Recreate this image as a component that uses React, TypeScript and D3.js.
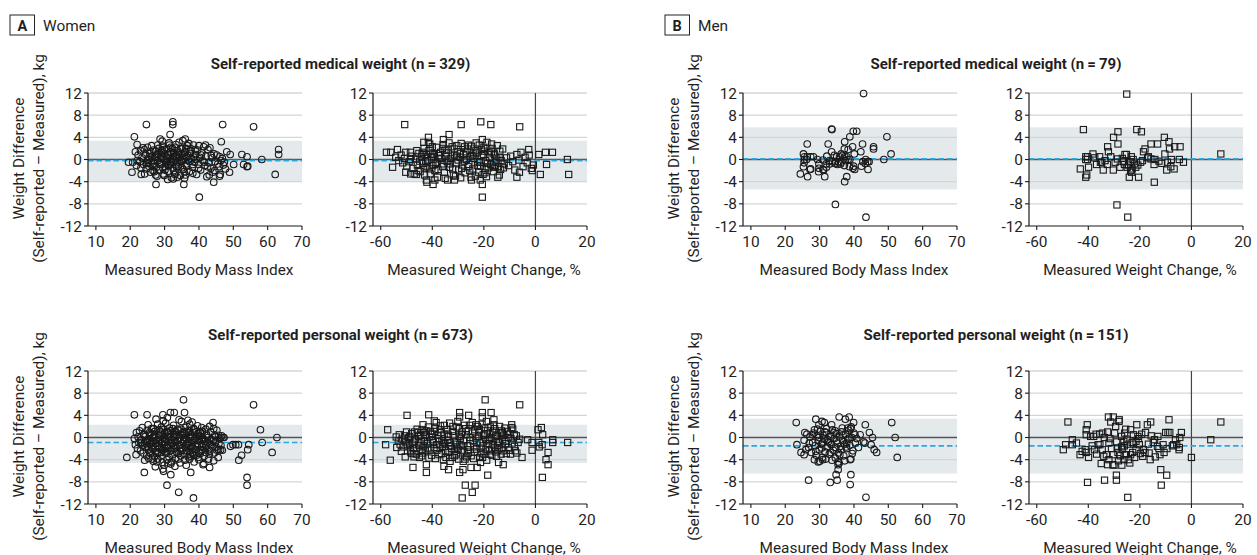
import React from "react";
import * as d3 from "d3";

type Pt = [number, number];

const FONT = "Roboto, 'Open Sans', Arial, sans-serif";

// ---------- tick labels ----------
const yTicks = [-12, -8, -4, 0, 4, 8, 12];
const bmiTicks = [10, 20, 30, 40, 50, 60, 70];
const chgTicks = [-60, -40, -20, 0, 20];

// ---------- agreement statistics [mean, upper limit, lower limit] ----------
const wMedStats = [-0.2, 3.4, -3.9];
const wPerStats = [-0.9, 2.3, -4.6];
const mMedStats = [0.1, 5.8, -5.4];
const mPerStats = [-1.5, 3.4, -6.5];

// ---------- Women, self-reported medical weight: BMI ----------
const wMedBmi: Pt[] = [
  [24.7, 6.3], [32.4, 6.8], [32.4, 6.3], [46.9, 6.3], [55.9, 5.9], [31.6, 4.5], [21.2, 4.1], [28.7, 3.7],
  [36.0, 3.7], [46.5, 3.2], [22.0, 2.7], [63.2, 1.8], [63.2, 0.9], [48.1, 1.4], [49.1, 0.9], [52.5, 0.9],
  [54.0, 0.5], [58.3, 0.0], [50.1, -0.9], [53.0, -0.9], [54.2, -1.2], [54.0, -1.3], [47.7, -1.7], [48.9, -2.3],
  [62.2, -2.7], [46.2, -2.7], [46.0, -3.0], [44.3, -4.1], [27.5, -4.5], [35.6, -4.5], [40.1, -6.8], [20.5, -2.3],
  [19.5, -0.5], [20.7, -0.5], [23.2, -2.7],
  [21.5, 1.4], [22.3, 0.8], [22.8, -0.4], [23.1, -1.5], [23.4, 0.3], [23.7, 2.1], [23.9, -0.9], [22.0, -0.2],
  [21.8, -1.1], [23.0, 1.6], [24.2, -2.6], [24.5, 0.9], [24.8, -0.6], [24.1, 1.8], [24.6, -1.7], [25.0, 2.2],
  [25.2, 0.1], [25.4, -1.2], [25.7, 1.1], [25.9, -2.3], [26.1, -0.3], [26.3, 0.6], [26.5, -1.0], [26.8, 1.7],
  [27.0, -0.7], [27.2, 0.4], [27.4, -2.8], [27.6, -1.4], [27.9, 0.9], [28.1, -0.2], [28.3, 2.0], [28.5, -1.9],
  [28.8, 0.3], [29.0, 1.3], [29.2, -0.8], [29.4, 2.4], [29.6, -2.6], [29.8, 0.0], [30.0, 1.0], [30.2, -1.3],
  [30.4, 0.5], [30.6, 1.9], [30.8, -0.4], [31.0, -2.1], [31.2, 0.8], [31.4, 2.6], [31.6, -0.9], [31.8, 1.4],
  [32.0, -3.3], [32.2, 0.2], [32.4, -1.6], [32.6, 1.1], [32.8, -0.1], [33.0, 2.2], [33.2, -2.4], [33.4, 0.7],
  [33.6, -0.6], [33.8, 1.6], [34.0, -1.2], [34.2, 3.1], [34.4, 0.3], [34.6, -2.9], [34.8, 1.0], [35.0, -0.3],
  [35.2, 2.0], [35.4, -1.8], [35.6, 0.6], [35.8, -3.4], [36.0, 1.3], [36.3, -0.8], [36.6, 2.5], [36.9, -0.1],
  [37.2, -2.2], [37.5, 1.1], [37.8, 0.2], [38.1, -1.4], [38.4, 2.6], [38.7, -0.5], [39.0, 0.9], [39.3, -2.7],
  [39.6, 1.7], [39.9, -0.9], [40.2, 0.4], [40.5, -1.9], [40.8, 1.2], [41.1, -0.2], [41.4, 2.3], [41.7, -1.1],
  [42.0, 0.6], [42.3, -3.1], [42.6, 1.8], [42.9, -0.6], [43.2, 2.1], [43.5, -1.6], [43.8, 0.3], [44.1, -2.3],
  [44.4, 1.0], [44.7, -0.4], [45.2, 0.8], [45.8, -1.3], [46.4, -0.2], [46.8, 0.2], [47.1, -1.0],
  [28.2, 1.1], [28.7, -0.9], [29.1, 0.6], [29.5, -1.5], [29.9, 1.8], [30.3, -0.6], [30.7, 0.2], [31.1, -1.1],
  [31.5, 1.3], [31.9, -0.3], [32.3, 2.0], [32.7, -2.0], [33.1, 0.5], [33.5, -1.3], [33.9, 0.9], [34.3, -0.5],
  [34.7, 1.9], [35.1, -1.5], [35.5, 0.0], [35.9, 1.4], [36.4, -1.2], [36.8, 0.7], [37.3, -0.4], [37.7, 1.9],
  [38.2, -2.5], [38.6, 0.4], [27.3, 1.5], [26.6, -2.0], [25.5, 0.5], [24.9, -0.2], [26.2, 2.5], [27.8, -3.0],
  [30.9, -3.6], [32.5, -3.5], [33.7, -3.2], [36.1, -2.8], [31.3, 3.0], [33.3, 2.7], [35.3, 3.4], [37.0, 2.9],
  [29.3, 3.3], [40.0, 2.5], [41.9, 2.6], [43.0, -2.8], [44.6, -2.0], [45.5, -0.8], [46.1, 0.5], [47.4, -0.5],
  [25.3, -0.7], [26.0, 1.4], [26.9, -1.3], [27.7, 0.6], [28.6, -0.5], [29.3, 1.6], [30.1, -1.9], [30.9, 0.9],
  [31.7, -0.6], [32.5, 0.5], [33.3, -1.0], [34.1, 1.2], [34.9, -0.2], [35.7, -2.2], [36.5, 0.4], [37.4, 1.5],
  [38.2, -0.9], [39.1, 0.0], [39.9, -1.6], [40.7, 0.8], [41.6, -0.5], [42.5, -1.3], [43.6, 0.7], [29.9, -2.9],
  [33.0, -2.7], [36.2, 2.0], [28.0, 2.6], [31.8, 2.2], [38.9, 1.8], [27.0, -2.2],
];

// ---------- Women, self-reported medical weight: weight change ----------
const wMedChg: Pt[] = [
  [-50.7, 6.3], [-28.8, 6.3], [-21.2, 6.8], [-17.3, 6.3], [-6.1, 5.9], [-33.5, 4.5], [-41.5, 4.0], [-35.7, 3.6],
  [-20.6, 3.6], [-43.3, 3.1], [-41.5, 3.1], [-57.8, 1.3], [-56.1, 1.3], [-53.5, 1.8], [-50.3, 1.3], [-48.5, 1.3],
  [-55.4, -1.4], [-50.3, -2.3], [-48.4, -2.6], [-46.2, -2.7], [3.9, 1.3], [6.6, 1.3], [1.3, 0.9], [-2.6, 1.8],
  [12.4, 0.0], [12.9, -2.7], [1.9, -2.7], [4.3, -0.9], [-6.2, -2.3], [-7.2, -3.2], [-42.3, -3.7], [-42.1, -4.1],
  [-39.7, -4.5], [-39.0, -3.7], [-34.1, -3.7], [-31.4, -3.7], [-24.8, -3.7], [-20.6, -4.5], [-14.6, -3.2],
  [-20.6, -6.8], [-21.4, -3.7],
  [-54.2, 0.4], [-53.0, -0.2], [-52.1, 0.8], [-51.5, -0.6], [-50.8, 0.2], [-49.9, -1.2], [-49.0, -0.4], [-48.2, 0.6],
  [-47.5, -1.6], [-47.0, -2.6], [-46.4, 0.1], [-45.8, -1.0], [-45.2, 1.1], [-44.7, -2.2], [-44.2, 0.5], [-43.7, -0.7],
  [-43.2, 2.0], [-42.8, -1.5], [-42.3, 0.9], [-41.8, -0.2], [-41.3, 1.6], [-40.8, -2.6], [-40.3, 0.3], [-39.8, -1.1],
  [-39.3, 0.9], [-38.8, -0.5], [-38.3, 2.2], [-37.8, -1.8], [-37.3, 0.1], [-36.8, 1.3], [-36.3, -0.8], [-35.8, 2.7],
  [-35.3, -2.3], [-34.8, 0.6], [-34.3, -0.3], [-33.8, 1.7], [-33.3, -1.4], [-32.8, 0.2], [-32.3, 2.3], [-31.8, -2.8],
  [-31.3, 0.8], [-30.8, -0.6], [-30.3, 1.4], [-29.8, -1.9], [-29.3, 0.4], [-28.8, 2.9], [-28.3, -1.0], [-27.8, 0.9],
  [-27.3, -2.4], [-26.8, 0.0], [-26.3, 1.9], [-25.8, -0.9], [-25.3, 0.5], [-24.8, 2.4], [-24.3, -1.7], [-23.8, 0.2],
  [-23.3, -3.0], [-22.8, 1.2], [-22.3, -0.4], [-21.8, 2.6], [-21.3, -1.2], [-20.8, 0.7], [-20.3, -2.7], [-19.8, 1.5],
  [-19.3, -0.2], [-18.8, 3.1], [-18.3, -1.5], [-17.8, 0.4], [-17.3, -0.9], [-16.8, 2.0], [-16.3, -2.2], [-15.8, 0.8],
  [-15.3, -0.5], [-14.8, 2.5], [-14.3, -1.3], [-13.8, 1.5], [-13.3, -0.2], [-12.7, 1.9], [-12.1, -0.8], [-11.2, 0.3],
  [-10.4, -1.1], [-9.6, 0.6], [-8.8, -0.4], [-8.0, -1.9], [-7.2, 0.9], [-6.4, -0.1], [-5.6, 1.3], [-4.8, -1.3],
  [-4.0, 0.4], [-3.2, -0.6], [-2.4, 0.8], [-1.6, -1.6], [-0.8, -1.0], [-1.2, -2.0],
  [-44.9, -0.3], [-43.5, 1.3], [-42.0, -1.2], [-40.6, 1.0], [-39.0, -2.0], [-37.6, 0.7], [-36.0, -1.3], [-34.5, 1.2],
  [-33.0, -0.8], [-31.5, 1.9], [-30.0, -0.1], [-28.6, -1.6], [-27.0, 1.4], [-25.5, -2.0], [-24.0, 1.0], [-22.5, -1.1],
  [-21.0, 1.8], [-19.5, -1.7], [-18.0, 1.2], [-16.5, -1.2], [-15.0, 0.1], [-13.5, -1.8], [-46.0, 1.6], [-41.0, 2.8],
  [-38.0, -3.2], [-33.5, 3.0], [-29.0, -3.3], [-26.0, 2.6], [-23.0, 3.0], [-19.0, -3.1], [-17.0, 2.8], [-14.0, -2.8],
  [-35.0, -3.4], [-30.5, 2.5], [-25.0, -3.2], [-20.0, 2.2], [-43.0, -2.8], [-48.5, 0.0],
  [-44.0, 1.0], [-42.6, -0.4], [-41.1, -1.7], [-39.6, 0.5], [-38.1, -0.7], [-36.6, 0.2], [-35.1, 1.7], [-33.6, -0.1],
  [-32.1, -1.7], [-30.6, 0.6], [-29.1, 1.1], [-27.6, -0.3], [-26.1, -1.3], [-24.6, 0.7], [-23.1, 1.6], [-21.6, -0.5],
  [-20.1, 0.9], [-18.6, -0.7], [-17.1, 1.4], [-15.6, -1.4], [-14.1, 0.4], [-12.4, -1.5], [-31.0, -3.0], [-27.5, 2.3],
  [-22.0, -2.3], [-36.0, 2.0], [-40.0, 2.3], [-45.5, -2.0], [-16.0, 1.0], [-19.6, -2.4],
];

// ---------- Women, self-reported personal weight: BMI ----------
const wPerBmi: Pt[] = [
  [35.5, 6.8], [55.9, 5.9], [21.2, 4.1], [24.9, 4.1], [31.7, 4.5], [32.8, 4.5], [35.8, 4.5], [29.5, 4.1],
  [44.1, 2.7], [57.9, 1.4], [62.7, 0.0], [19.0, -3.6], [24.1, -6.3], [27.3, -5.3], [29.5, -5.7], [29.7, -6.1],
  [31.8, -6.7], [30.7, -8.6], [34.1, -9.9], [38.4, -10.9], [37.6, -6.3], [41.2, -4.9], [43.1, -5.4], [54.0, -7.2],
  [54.0, -8.6], [51.6, -4.1], [52.4, -3.2], [54.2, -2.2], [54.5, -1.3], [58.4, -0.9], [61.3, -2.7], [49.2, -1.6],
  [49.9, -1.3], [50.7, -1.3], [51.5, -1.3], [47.3, 0.0], [46.4, 0.0], [45.7, 0.4], [45.7, -2.2],
  [23.5, 1.8], [25.2, 2.3], [26.8, 1.6], [28.0, 2.4], [29.1, 1.9], [30.3, 2.6], [31.4, 1.7], [32.6, 2.2],
  [33.8, 1.5], [34.9, 2.9], [36.1, 1.8], [37.3, 2.4], [38.5, 1.6], [39.6, 2.1], [40.8, 1.8], [42.0, 1.5],
  [43.1, 2.0], [44.3, 1.6], [45.2, 1.3], [27.5, 3.3], [30.8, 3.6], [34.2, 3.2], [36.8, 3.1], [29.6, 3.0], [38.0, 2.8],
  [21.8, 0.9], [22.7, 1.2], [24.0, 0.6], [24.9, 1.3], [26.0, 0.8], [27.1, 1.1], [28.3, 0.5], [29.4, 1.4],
  [30.6, 0.9], [31.7, 1.2], [32.9, 0.6], [34.0, 1.3], [35.2, 0.8], [36.4, 1.1], [37.5, 0.5], [38.7, 1.4],
  [39.8, 0.7], [41.0, 1.1], [42.2, 0.6], [43.4, 1.0], [44.6, 0.4], [46.6, 0.3], [25.6, 0.4], [28.9, 1.0],
  [33.3, 1.0], [36.9, 0.9], [40.3, 0.3],
  [21.2, -0.2], [22.3, 0.1], [23.3, -0.4], [24.4, 0.2], [25.5, -0.3], [26.5, 0.0], [27.6, -0.5], [28.6, 0.3],
  [29.7, -0.1], [30.8, 0.2], [31.9, -0.4], [33.0, 0.1], [34.1, -0.2], [35.3, 0.4], [36.4, -0.3], [37.6, 0.0],
  [38.8, -0.5], [39.9, 0.2], [41.1, -0.1], [42.3, 0.3], [43.5, -0.4], [44.8, 0.1], [46.0, -0.2], [47.0, 0.0],
  [26.9, 0.4], [30.2, -0.3], [35.8, 0.0], [39.2, 0.1],
  [21.5, -1.3], [22.5, -0.9], [23.6, -1.4], [24.7, -0.8], [25.8, -1.2], [26.8, -0.7], [27.9, -1.5], [29.0, -0.9],
  [30.0, -1.3], [31.1, -0.6], [32.2, -1.1], [33.3, -0.8], [34.4, -1.4], [35.5, -0.7], [36.6, -1.2], [37.8, -0.9],
  [38.9, -1.5], [40.1, -0.6], [41.2, -1.2], [42.4, -0.8], [43.6, -1.3], [44.7, -0.9], [45.8, -1.1], [46.4, -1.4],
  [24.1, -1.0], [28.4, -1.1], [32.7, -1.4], [37.1, -1.5], [41.7, -0.7],
  [22.1, -2.0], [23.0, -2.4], [24.3, -1.8], [25.3, -2.2], [26.3, -1.7], [27.4, -2.5], [28.5, -1.9], [29.5, -2.3],
  [30.6, -1.7], [31.6, -2.4], [32.8, -2.0], [33.9, -1.6], [35.0, -2.3], [36.1, -1.8], [37.2, -2.5], [38.3, -2.0],
  [39.5, -1.7], [40.6, -2.4], [41.8, -1.9], [42.9, -2.2], [44.0, -1.7], [45.3, -2.3], [46.3, -2.2], [46.8, -2.3],
  [26.0, -2.5], [30.1, -2.0], [34.6, -2.5], [38.0, -1.6],
  [21.7, -3.1], [23.8, -2.8], [24.8, -3.3], [25.9, -2.9], [27.0, -3.4], [28.1, -2.7], [29.2, -3.2], [30.3, -2.8],
  [31.3, -3.5], [32.4, -3.0], [33.5, -2.6], [34.7, -3.3], [35.8, -2.9], [36.9, -3.5], [38.1, -2.7], [39.3, -3.2],
  [40.4, -2.9], [41.5, -3.4], [43.0, -3.0], [44.5, -2.8], [45.6, -3.6],
  [24.2, -4.1], [25.4, -3.8], [26.7, -4.3], [28.0, -3.9], [29.3, -4.5], [30.7, -4.0], [32.0, -4.4], [33.2, -3.8],
  [34.5, -4.6], [35.9, -4.1], [37.3, -3.9], [38.6, -4.4], [40.0, -4.0], [41.4, -4.7], [42.8, -3.9], [44.3, -4.2],
  [29.9, -5.0], [33.0, -5.2], [36.3, -5.0], [31.8, -4.8],
  [24.5, -0.6], [25.0, -1.6], [25.6, 0.9], [26.1, -0.9], [26.6, -2.1], [27.1, 0.2], [27.5, -1.1], [28.0, -2.9],
  [28.4, 1.4], [28.8, -0.3], [29.2, -1.8], [29.6, 0.5], [30.0, -0.7], [30.4, -2.6], [30.8, 1.1], [31.2, -1.5],
  [31.6, 0.0], [32.0, -2.2], [32.4, 1.6], [32.8, -0.5], [33.2, -1.7], [33.6, 0.4], [34.0, -2.9], [34.4, -0.1],
  [34.8, 1.5], [35.2, -1.9], [35.6, -0.4], [36.0, 0.7], [36.4, -2.4], [36.8, -0.8], [37.2, 1.3], [37.6, -1.8],
  [38.0, 0.2], [38.4, -3.1], [38.8, -0.2], [39.2, 1.0], [39.6, -1.2], [40.0, -2.6], [40.4, 0.9], [40.9, -1.6],
  [41.4, -0.3], [41.9, -2.7], [42.5, 0.0], [43.0, -1.0],
  [23.1, -1.0], [23.9, 0.5], [25.1, -0.4], [26.2, 1.6], [27.3, -1.9], [28.2, -0.5], [29.1, -2.7], [30.1, 0.7],
  [31.0, -1.9], [31.9, -0.9], [32.9, 1.1], [33.8, -0.6], [34.7, -2.0], [35.6, 1.0], [36.5, -1.0], [37.4, -3.0],
  [38.3, 0.9], [39.2, -2.2], [40.1, -0.3], [41.0, -2.2], [42.0, -1.4], [43.2, -2.5], [44.2, -0.5], [45.0, -1.7],
  [27.8, -4.4], [31.0, -4.6], [34.0, -3.9], [37.7, -3.4], [26.4, -3.9], [39.8, -3.6],
];

// ---------- Women, self-reported personal weight: weight change ----------
const wPerChg: Pt[] = [
  [-57.3, 1.4], [-58.1, -1.3], [-56.3, -4.1], [-49.8, 4.0], [-47.5, -5.4], [-42.3, -4.9], [-42.3, -6.3], [-41.4, 4.1],
  [-33.7, -5.8], [-35.5, -5.2], [-29.4, 4.5], [-29.4, 3.7], [-25.9, 4.0], [-19.5, 6.8], [-20.6, 4.5], [-20.6, 3.7],
  [-17.2, 4.5], [-16.1, 3.2], [-6.1, 5.9], [-29.4, -6.3], [-28.1, -5.8], [-27.2, -8.6], [-23.4, -8.6], [-24.5, -9.9],
  [-28.4, -10.9], [-25.0, -5.4], [-22.6, -5.4], [-18.5, -6.8], [-21.3, -4.5], [-12.5, -4.9], [-14.3, -4.5],
  [-5.2, -3.6], [-7.2, -2.8], [2.3, 1.8], [2.8, 0.5], [1.0, 1.4], [4.9, -2.7], [4.1, -4.0], [4.9, -4.9],
  [2.7, -7.2], [6.7, -0.4], [6.7, -0.9], [12.5, -0.9], [1.3, -0.9], [2.6, -1.3], [1.5, -1.7], [-1.3, -0.9],
  [-1.3, -2.3], [-3.0, -0.4], [-9.2, 2.3], [-9.2, 1.8],
  [-54.0, 0.1], [-53.2, -0.6], [-52.5, -1.2], [-51.8, -0.3], [-51.0, -1.7], [-50.3, -0.8], [-49.6, -2.4], [-48.8, -1.1],
  [-48.0, 0.7], [-47.3, -2.0], [-46.6, -0.4], [-45.9, 1.5], [-45.2, -1.4], [-44.5, 0.4], [-43.8, -2.8], [-43.1, -0.7],
  [-42.4, 1.2], [-41.7, -1.9], [-41.0, 0.1], [-40.3, -3.2], [-39.6, -0.9], [-38.9, 1.7], [-38.2, -2.3], [-37.5, -0.2],
  [-36.8, 2.1], [-36.1, -1.6], [-35.4, 0.6], [-34.7, -3.6], [-34.0, -0.5], [-33.3, 2.6], [-32.6, -2.0], [-31.9, 0.3],
  [-31.2, -1.2], [-30.5, 1.9], [-29.8, -3.9], [-29.1, -0.1], [-28.4, 1.0], [-27.7, -2.6], [-27.0, 0.5], [-26.3, -1.5],
  [-25.6, 2.2], [-24.9, -3.3], [-24.2, -0.6], [-23.5, 1.4], [-22.8, -2.1], [-22.1, 0.2], [-21.4, -1.0], [-20.7, 2.4],
  [-20.0, -3.0], [-19.3, -0.3], [-18.6, 1.2], [-17.9, -2.4], [-17.2, 0.0], [-16.5, -1.3], [-15.8, 1.6], [-15.1, -3.4],
  [-14.4, -0.7], [-13.7, 0.8], [-13.0, -1.9], [-12.3, 0.4], [-11.6, -1.1], [-10.9, 1.1], [-10.2, -2.3], [-9.5, -0.2],
  [-8.8, 1.5], [-8.1, -1.6], [-7.4, 0.3], [-6.7, -0.9],
  [-50.8, 0.3], [-49.2, -0.1], [-47.7, -1.2], [-46.2, -3.0], [-44.8, -1.0], [-43.4, 0.9], [-42.0, -1.1], [-40.7, 1.1],
  [-39.3, -1.8], [-37.9, 0.4], [-36.5, -2.9], [-35.1, -1.1], [-33.7, 0.2], [-32.3, -3.6], [-30.9, -0.8], [-29.5, 1.6],
  [-28.1, -1.5], [-26.7, -3.5], [-25.3, 0.0], [-23.9, -1.7], [-22.5, 2.0], [-21.1, -2.8], [-19.7, 0.7], [-18.3, -1.1],
  [-16.9, -3.2], [-15.5, 0.3], [-14.1, -2.1], [-12.7, -0.4], [-11.3, -2.9], [-9.9, 0.6], [-7.8, -2.4], [-6.1, -0.3],
  [-48.4, -2.6], [-45.5, 0.9], [-42.7, -2.4], [-39.9, 0.6], [-37.1, -1.3], [-34.3, 1.4], [-31.5, -2.5], [-28.7, 0.6],
  [-25.9, -2.2], [-23.1, -0.1], [-20.3, -1.5], [-17.5, 1.9], [-14.7, -1.4], [-11.9, 1.7], [-41.3, -3.7], [-38.5, 2.7],
  [-35.7, -4.0], [-32.9, -1.5], [-30.1, 2.9], [-27.3, -3.9], [-24.5, 2.7], [-21.7, -3.6], [-18.9, -4.1], [-16.1, 2.3],
  [-13.3, -3.0], [-46.9, 1.0], [-44.1, -3.3], [-36.3, -0.6], [-29.3, -1.3], [-26.0, 1.2], [-19.0, 2.9], [-33.1, -4.3],
  [-30.7, -3.1], [-43.6, 2.3], [-39.2, 3.0], [-21.9, 1.0], [-17.0, -2.1], [-10.6, 0.0], [-53.8, -1.8], [-52.0, -2.5],
  [-50.5, -3.5], [-47.1, -3.5],
  [-49.5, -1.5], [-48.7, 0.2], [-47.9, -2.9], [-47.0, -0.8], [-46.1, -1.9], [-45.3, 0.2], [-44.4, -2.3], [-43.5, -1.5],
  [-42.7, 0.5], [-41.8, -0.8], [-40.9, -2.3], [-40.0, -0.4], [-39.2, 1.1], [-38.3, -1.3], [-37.4, -3.1], [-36.6, 0.9],
  [-35.7, -0.9], [-34.8, -2.4], [-34.0, 0.6], [-33.1, -1.0], [-32.2, 1.1], [-31.4, -3.3], [-30.5, -1.7], [-29.6, 0.2],
  [-28.8, -2.3], [-27.9, -0.6], [-27.0, 1.6], [-26.2, -2.9], [-25.3, -1.1], [-24.4, 0.8], [-23.6, -2.6], [-22.7, -0.9],
  [-21.8, 1.5], [-21.0, -1.9], [-20.1, 0.4], [-19.2, -2.2], [-18.4, -0.6], [-17.5, -3.0], [-16.6, 0.9], [-15.8, -1.8],
  [-14.9, 0.2], [-14.0, -1.0], [-13.2, 1.2], [-12.3, -2.4], [-11.4, -0.6], [-10.5, -1.8], [-9.0, -1.0], [-8.2, 0.5],
  [-52.8, 0.5], [-50.0, 1.0], [-45.0, -3.6], [-41.5, 1.9], [-37.0, 1.4], [-33.5, -2.7], [-30.0, -2.1], [-27.5, 2.2],
  [-24.0, -3.8], [-20.5, -3.6], [-17.8, -0.4], [-15.4, -2.6], [-12.8, 0.9], [-9.7, -3.0], [-44.0, 1.4], [-38.8, -3.8],
  [-35.3, 2.2], [-32.0, 2.0], [-28.0, -4.3], [-23.0, 2.3], [-19.6, 1.7], [-13.9, 2.0],
];

// ---------- Men, self-reported medical weight: BMI ----------
const mMedBmi: Pt[] = [
  [42.8, 11.9], [33.5, 5.5], [33.6, 5.4], [39.8, 5.1], [40.8, 5.1], [38.8, 4.1], [37.3, 3.2], [49.6, 4.1],
  [26.4, 2.8], [32.5, 2.8], [42.5, 2.8], [39.6, 2.3], [45.7, 2.3], [45.7, 1.9], [38.3, 1.8], [37.2, 1.9],
  [33.5, 1.4], [42.0, 1.4], [25.3, 1.0], [50.8, 1.0], [40.1, 1.0], [36.3, 1.0], [25.6, 0.5], [26.4, 0.5],
  [27.4, 0.5], [28.2, 0.5], [32.1, 0.6], [34.3, 0.75], [35.0, 0.5], [35.8, 0.5], [36.6, 0.75], [37.3, 0.5],
  [37.9, 0.5], [48.7, 0.0], [43.4, 0.0], [25.5, 0.0], [26.2, 0.0], [29.4, 0.0], [31.0, -0.1], [32.9, -0.2],
  [33.8, -0.4], [34.6, -0.4], [35.5, -0.4], [36.2, -0.5], [37.5, -0.2], [38.3, 0.0], [38.8, 0.0], [25.5, -0.6],
  [42.6, -0.4], [44.0, -0.4], [44.4, -0.4], [34.5, -0.7], [35.2, -0.9], [32.9, -0.8], [31.9, -0.8], [36.1, -0.8],
  [37.2, -1.1], [38.7, -1.3], [39.9, -1.2], [25.3, -1.3], [29.8, -0.8], [29.8, -1.6], [31.0, -1.8], [32.0, -1.4],
  [42.2, -1.2], [43.3, -0.7], [44.1, -1.8], [39.7, -1.6], [40.2, -1.8], [27.2, -1.8], [27.4, -1.7], [24.4, -2.6],
  [29.7, -2.2], [31.2, -1.9], [26.5, -3.1], [31.5, -3.1], [37.9, -3.1], [37.3, -4.0], [34.6, -8.1], [43.5, -10.4],
];

// ---------- Men, self-reported medical weight: weight change ----------
const mMedChg: Pt[] = [
  [-25.1, 11.8], [-41.9, 5.4], [-21.2, 5.4], [-19.4, 5.0], [-28.5, 5.0], [-30.2, 4.0], [-10.5, 4.0], [-8.7, 3.2],
  [-28.5, 2.8], [-15.7, 2.8], [-13.1, 2.8], [-32.5, 2.3], [-6.5, 2.3], [-4.4, 2.3], [-18.0, 1.9], [-8.5, 1.9],
  [-32.2, 1.4], [-18.6, 1.4], [-10.3, 1.0], [11.4, 1.0], [-38.2, 1.0], [-16.7, 0.5], [-41.0, 0.5], [-40.3, 0.5],
  [-31.3, 0.5], [-25.2, 0.9], [-25.8, 0.9], [-35.6, 0.5], [-23.3, 0.5], [-15.7, 0.1], [-14.2, 0.0], [-28.7, 0.1],
  [-41.0, 0.0], [-40.3, 0.0], [-4.7, 0.0], [-35.3, -0.5], [-34.8, -0.5], [-29.6, -0.5], [-26.4, -0.4], [-23.6, -0.4],
  [-19.7, -0.5], [-22.2, -0.8], [-14.5, -0.9], [-11.5, -0.7], [-9.3, -0.5], [-7.8, 0.0], [-3.1, -0.5], [-39.9, -1.4],
  [-36.8, -0.9], [-32.6, -0.9], [-27.7, -1.4], [-24.9, -1.4], [-21.6, -1.4], [-23.0, -1.7], [-23.6, -2.0], [-34.2, -1.9],
  [-30.3, -1.9], [-43.1, -1.7], [-9.6, -1.9], [-6.7, -1.7], [-8.0, -1.3], [-23.2, -2.3], [-40.6, -2.8], [-41.0, -3.2],
  [-24.1, -3.2], [-20.5, -3.2], [-14.4, -4.1], [-28.9, -8.2], [-24.7, -10.4], [-26.0, -0.9], [-24.4, -1.0],
  [-22.6, 0.0], [-17.0, 0.3], [-12.6, -0.3], [-37.5, 0.3], [-33.5, -0.2], [-20.8, -1.0], [-26.8, 0.2], [-19.0, -0.2],
];

// ---------- Men, self-reported personal weight: BMI ----------
const mPerBmi: Pt[] = [
  [23.2, 2.7], [28.9, 3.3], [30.7, 2.9], [31.4, 2.7], [35.7, 3.7], [37.5, 3.3], [38.6, 3.7], [39.9, 2.7],
  [33.5, 2.3], [29.8, 2.3], [43.3, 2.3], [51.0, 2.7], [39.2, 1.9], [38.2, 1.7], [28.5, 1.4], [25.7, 0.9],
  [44.5, 0.9], [45.4, 0.0], [52.0, 0.0], [23.4, -1.3], [24.6, -2.7], [25.5, -3.1], [42.8, -0.8], [43.2, -1.0],
  [45.0, -1.3], [45.9, -2.2], [46.6, -2.7], [52.6, -3.6], [29.6, -4.4], [30.9, -4.0], [35.4, -4.9], [35.7, -4.6],
  [35.4, -5.8], [34.8, -6.7], [39.1, -6.7], [26.8, -7.7], [33.1, -8.1], [35.1, -7.7], [38.9, -8.5], [43.5, -10.8],
  [25.5, -0.5], [26.3, 0.6], [26.8, -1.8], [27.2, 0.1], [27.6, -2.7], [28.0, -0.9], [28.3, 0.8], [28.7, -1.5],
  [29.0, -3.2], [29.3, 0.3], [29.6, -0.6], [29.9, -2.2], [30.2, 1.1], [30.5, -1.2], [30.8, -3.6], [31.0, 0.4],
  [31.3, -0.3], [31.6, -2.6], [31.9, 0.9], [32.2, -1.7], [32.5, -0.8], [32.8, -3.0], [33.1, 0.2], [33.4, -1.3],
  [33.7, 1.4], [34.0, -2.3], [34.3, -0.2], [34.6, -3.7], [34.9, 0.7], [35.2, -1.0], [35.5, -2.8], [35.8, 0.1],
  [36.1, -1.6], [36.4, 1.0], [36.7, -0.5], [37.0, -3.3], [37.3, -1.2], [37.6, 0.6], [37.9, -2.0], [38.2, -0.3],
  [38.5, 1.3], [38.8, -1.4], [39.1, -3.9], [39.4, 0.0], [39.7, -2.4], [40.0, 0.8], [40.4, -1.0], [40.8, -0.2],
  [41.3, -1.8], [41.8, 0.5],
  [26.0, -2.2], [27.0, -1.0], [27.9, 0.5], [28.9, -2.5], [29.8, 0.0], [30.6, -1.9], [31.5, 1.0], [32.3, -0.4],
  [33.2, -2.7], [34.1, 0.9], [35.0, -0.6], [35.9, -3.1], [36.8, 0.4], [37.7, -1.7], [38.6, -0.1], [39.5, -2.9],
  [40.3, 0.5], [28.5, -4.0], [30.0, -4.3], [31.8, -3.9], [33.6, -4.1], [35.4, -4.4], [37.3, -4.2], [38.9, -4.0],
  [29.4, 1.5], [32.0, 1.6], [34.5, 1.2], [36.6, 1.7], [39.0, 1.6], [30.9, -1.0], [33.0, -1.0], [34.7, -1.8],
  [36.3, -2.2], [37.9, -1.0],
];

// ---------- Men, self-reported personal weight: weight change ----------
const mPerChg: Pt[] = [
  [-47.9, 2.8], [-49.7, -2.2], [-48.8, -1.3], [-46.2, -0.4], [-46.2, -1.3], [-43.2, -3.1], [-40.4, 2.3], [-40.8, 1.4],
  [-40.8, 0.5], [-41.2, -2.2], [-40.8, -2.7], [-39.9, -3.6], [-40.3, -8.1], [-39.1, 0.2], [-37.9, 0.2], [-37.0, 0.6],
  [-35.6, 0.6], [-33.7, -7.7], [-29.1, -7.7], [-29.1, -6.8], [-24.7, -10.8], [-32.2, 3.7], [-30.3, 3.7], [-28.0, 3.2],
  [-31.3, 2.8], [-29.4, 2.0], [-28.1, 2.9], [-21.2, 2.3], [-15.8, 2.8], [-17.1, 2.3], [-8.7, 3.2], [-9.1, 0.9],
  [-8.4, 0.9], [-10.0, 0.9], [-3.9, 0.9], [-4.5, 0.0], [11.4, 2.8], [7.5, -0.4], [0.0, -3.6], [-11.9, -5.8],
  [-9.6, -6.8], [-11.7, -8.6], [-4.8, -2.2], [-4.7, -1.8], [-6.9, -1.3], [-5.7, -1.3], [-10.6, -2.7], [-12.2, -3.1],
  [-14.0, -3.5], [-16.0, -4.0], [-14.3, -0.4], [-14.8, -0.9], [-13.2, -1.6], [-18.6, -2.2], [-18.0, -2.7], [-20.8, 0.2],
  [-21.5, -0.7], [-22.4, -1.2], [-23.6, 1.4], [-25.9, 0.8], [-27.1, 0.2], [-26.2, -0.7], [-24.9, -1.2], [-27.1, -1.7],
  [-28.5, -2.7], [-30.3, -3.1], [-32.0, -4.0], [-30.5, -4.9], [-32.5, -4.9], [-25.6, -3.1], [-23.6, -3.1], [-26.2, -4.0],
  [-24.5, -4.0], [-22.8, -2.7], [-21.5, -2.2], [-20.2, -1.3], [-32.5, 1.0], [-33.8, 0.0], [-35.5, -1.3], [-33.0, -3.1],
  [-34.6, -2.2], [-36.2, -1.3], [-36.8, -3.0], [-34.0, -3.4], [-31.0, -2.0], [-29.0, -0.8], [-27.6, -3.3], [-26.7, -2.1],
  [-25.0, -0.3], [-23.9, -4.6], [-22.0, -3.6], [-20.5, -0.2], [-19.3, 0.6], [-17.8, 0.9], [-16.7, -1.2], [-15.6, 0.3],
  [-13.0, 0.2], [-11.0, -1.3], [-9.5, -2.0], [-7.4, -1.5], [-6.2, -0.4], [-30.0, -5.0], [-28.8, -1.9], [-32.0, -1.0],
  [-35.0, -4.7], [-37.6, -2.2], [-38.5, -1.5], [-42.4, -2.5], [-44.6, -1.0], [-27.0, -5.0], [-25.5, 1.5], [-22.5, 0.5],
  [-18.9, -3.4], [-16.4, -2.8], [-12.6, -2.0], [-29.8, 0.8], [-31.6, -0.2], [-34.4, 0.8], [-23.0, -0.9], [-19.8, -2.9],
  [-26.0, -1.5], [-28.3, -4.2],
];

// ---------- layout ----------
const PW = 214;
const PH = 133;
const ROW_Y = [93, 371];
const COL_X = [88, 373, 743, 1029];
const BMI_DOMAIN: [number, number] = [7.7, 70];
const CHG_DOMAIN: [number, number] = [-63, 20];

const BAND = "#e4e9ec";
const GRID = "#d3d6d8";
const BLUE = "#2aa8e0";
const INK = "#1a1a1a";
const TXT = "#1f1f1f";
const FS = 15.4;

type PanelProps = {
  x0: number;
  y0: number;
  kind: "bmi" | "chg";
  data: Pt[];
  stats: number[];
};

function Panel({ x0, y0, kind, data, stats }: PanelProps) {
  const x = d3.scaleLinear().domain(kind === "bmi" ? BMI_DOMAIN : CHG_DOMAIN).range([x0, x0 + PW]);
  const y = d3.scaleLinear().domain([-12, 12]).range([y0 + PH, y0]);
  const ticks = kind === "bmi" ? bmiTicks : chgTicks;
  const [mean, upper, lower] = stats;
  const sq = 6.2;
  return (
    <g>
      <rect x={x0} y={y(upper)} width={PW} height={y(lower) - y(upper)} fill={BAND} />
      {yTicks
        .filter((t) => t !== 0 && t !== -12)
        .map((t) => (
          <line key={t} x1={x0} x2={x0 + PW} y1={y(t)} y2={y(t)} stroke={GRID} strokeWidth={1.4} />
        ))}
      <line x1={x0} x2={x0 + PW} y1={y(0)} y2={y(0)} stroke="#555" strokeWidth={1.3} />
      {kind === "chg" && (
        <line x1={x(0)} x2={x(0)} y1={y(12)} y2={y(-12)} stroke="#444" strokeWidth={1.2} />
      )}
      <line x1={x0} x2={x0 + PW} y1={y(mean)} y2={y(mean)} stroke={BLUE} strokeWidth={1.7} strokeDasharray="5.5,3" />
      {/* axes */}
      <line x1={x0} x2={x0} y1={y(12)} y2={y(-12)} stroke={INK} strokeWidth={1.2} />
      <line x1={x0} x2={x0 + PW} y1={y(-12)} y2={y(-12)} stroke={INK} strokeWidth={1.2} />
      {yTicks.map((t) => (
        <g key={t}>
          <line x1={x0 - 4} x2={x0} y1={y(t)} y2={y(t)} stroke={INK} strokeWidth={1.1} />
          <text x={x0 - 6} y={y(t)} dy="0.36em" textAnchor="end" fontSize={FS} fill={TXT}>
            {t}
          </text>
        </g>
      ))}
      {ticks.map((t) => (
        <g key={t}>
          <line x1={x(t)} x2={x(t)} y1={y(-12)} y2={y(-12) + 4} stroke={INK} strokeWidth={1.1} />
          <text x={x(t)} y={y(-12) + 21} textAnchor="middle" fontSize={FS} fill={TXT}>
            {t}
          </text>
        </g>
      ))}
      <text x={x0 + PW / 2 + 4} y={y(-12) + 48.5} textAnchor="middle" fontSize={FS} fill={TXT}>
        {kind === "bmi" ? "Measured Body Mass Index" : "Measured Weight Change, %"}
      </text>
      {/* points */}
      {data.map((d, i) =>
        kind === "bmi" ? (
          <circle key={i} cx={x(d[0])} cy={y(d[1])} r={3.3} fill="none" stroke={INK} strokeWidth={1.1} />
        ) : (
          <rect
            key={i}
            x={x(d[0]) - sq / 2}
            y={y(d[1]) - sq / 2}
            width={sq}
            height={sq}
            fill="none"
            stroke={INK}
            strokeWidth={1.1}
          />
        )
      )}
    </g>
  );
}

function YTitle({ x0, y0 }: { x0: number; y0: number }) {
  const cy = y0 + PH / 2 - 1;
  return (
    <g fontSize={FS} fill={TXT}>
      <text transform={`translate(${x0 - 69},${cy}) rotate(-90)`} textAnchor="middle" dy="0.35em">
        Weight Difference
      </text>
      <text transform={`translate(${x0 - 49},${cy}) rotate(-90)`} textAnchor="middle" dy="0.35em">
        (Self-reported – Measured), kg
      </text>
    </g>
  );
}

const groupLabels = ["A", "B"];
const groupNames = ["Women", "Men"];
const medTitles = ["Self-reported medical weight (n\u2009=\u2009329)", "Self-reported medical weight (n\u2009=\u200979)"];
const perTitles = ["Self-reported personal weight (n\u2009=\u2009673)", "Self-reported personal weight (n\u2009=\u2009151)"];

export default function App() {
  const groups = [
    { bx: 10, tx: 43, med: [wMedBmi, wMedChg], per: [wPerBmi, wPerChg], ms: wMedStats, ps: wPerStats, c: 0 },
    { bx: 665, tx: 698, med: [mMedBmi, mMedChg], per: [mPerBmi, mPerChg], ms: mMedStats, ps: mPerStats, c: 2 },
  ];
  return (
    <svg
      width={1257}
      height={555}
      viewBox="0 0 1257 555"
      style={{ position: "absolute", left: 0, top: 0, background: "#fff" }}
      fontFamily={FONT}
    >
      <rect x={0} y={0} width={1257} height={555} fill="#fff" />
      {groups.map((g, gi) => {
        const xa = COL_X[g.c];
        const xb = COL_X[g.c + 1];
        const titleX = (xa + xb + PW) / 2 + 3;
        return (
          <g key={gi}>
            <rect x={g.bx} y={15} width={24.5} height={20} fill="#fff" stroke="#222" strokeWidth={1} />
            <text x={g.bx + 12.25} y={30.5} textAnchor="middle" fontSize={14.5} fontWeight="bold" fill={TXT}>
              {groupLabels[gi]}
            </text>
            <text x={g.tx} y={30.5} fontSize={FS} fill={TXT}>
              {groupNames[gi]}
            </text>
            <text x={titleX} y={69} textAnchor="middle" fontSize={15} fontWeight="bold" fill={TXT}>
              {medTitles[gi]}
            </text>
            <text x={titleX} y={340} textAnchor="middle" fontSize={15} fontWeight="bold" fill={TXT}>
              {perTitles[gi]}
            </text>
            <YTitle x0={xa} y0={ROW_Y[0]} />
            <YTitle x0={xa} y0={ROW_Y[1]} />
            <Panel x0={xa} y0={ROW_Y[0]} kind="bmi" data={g.med[0]} stats={g.ms} />
            <Panel x0={xb} y0={ROW_Y[0]} kind="chg" data={g.med[1]} stats={g.ms} />
            <Panel x0={xa} y0={ROW_Y[1]} kind="bmi" data={g.per[0]} stats={g.ps} />
            <Panel x0={xb} y0={ROW_Y[1]} kind="chg" data={g.per[1]} stats={g.ps} />
          </g>
        );
      })}
    </svg>
  );
}
